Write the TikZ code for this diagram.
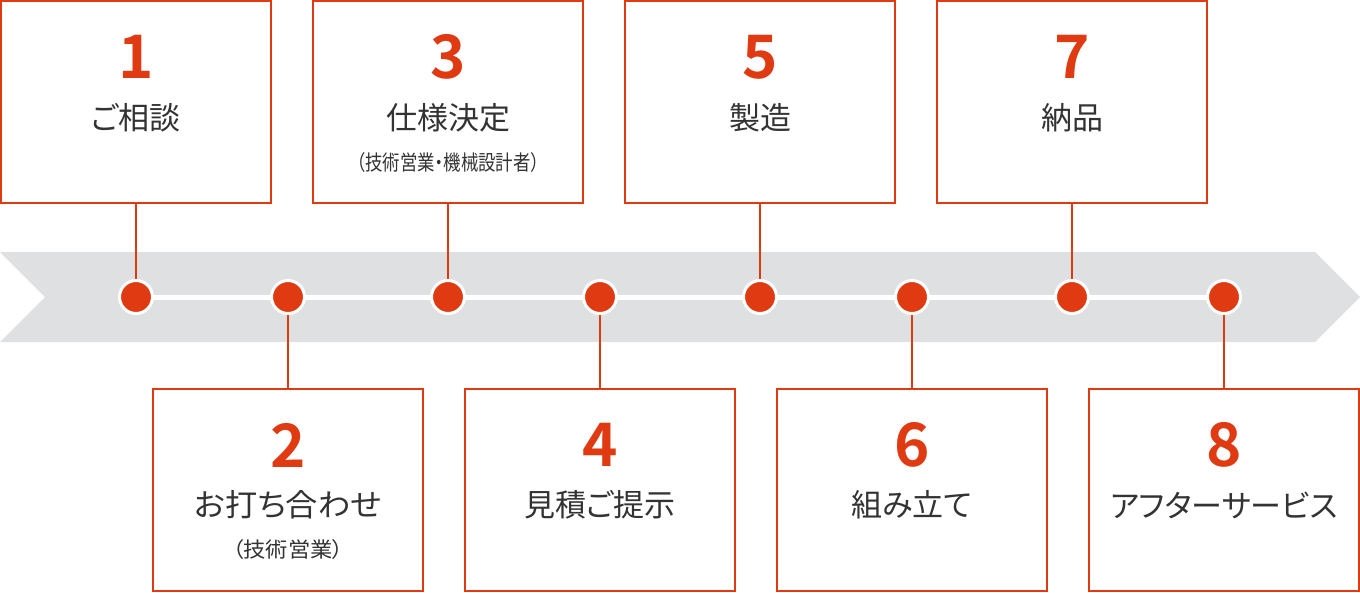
\documentclass[tikz,border=0pt]{standalone}
\usepackage{fontspec}
\usepackage{graphicx}
\setmainfont{Noto Sans CJK JP}
\newfontfamily\jpfont[RawFeature=+palt]{Noto Sans CJK JP}
\newfontfamily\numfont{Noto Sans CJK JP Bold}
\definecolor{accent}{HTML}{E03A12}
\definecolor{band}{HTML}{DFE0E2}
\definecolor{ink}{HTML}{333333}
\tikzset{
  stepbox/.style={draw=accent, line width=2pt, fill=white, minimum width=270pt, minimum height=202pt, inner sep=0pt},
  stepnum/.style={text=accent, font=\numfont\fontsize{60}{60}\selectfont, inner sep=0pt},
  steplabel/.style={text=ink, font=\jpfont\fontsize{31}{31}\selectfont, inner sep=0pt},
  stepsub/.style={text=ink, font=\jpfont\fontsize{21}{21}\selectfont, inner sep=0pt},
  dot/.style={circle, fill=accent, draw=white, line width=3pt, minimum size=33pt, inner sep=0pt},
  link/.style={draw=accent, line width=2pt},
}
\begin{document}
\begin{tikzpicture}[x=1pt,y=-1pt]
\useasboundingbox (0,0) rectangle (1360,592);
% band
\fill[band] (0,252) -- (1315,252) -- (1360,297) -- (1315,342) -- (0,342) -- (45,297) -- cycle;
% boxes
\node[stepbox] (b1) at (136,102) {};
\node[stepbox] (b3) at (448,102) {};
\node[stepbox] (b5) at (760,102) {};
\node[stepbox] (b7) at (1072,102) {};
\node[stepbox] (b2) at (288,490) {};
\node[stepbox] (b4) at (600,490) {};
\node[stepbox] (b6) at (912,490) {};
\node[stepbox] (b8) at (1224,490) {};
% dot anchors
\coordinate (c1) at (137,297);
\coordinate (c2) at (289,297);
\coordinate (c3) at (449,297);
\coordinate (c4) at (600,297);
\coordinate (c5) at (761,297);
\coordinate (c6) at (912,297);
\coordinate (c7) at (1072,297);
\coordinate (c8) at (1224,297);
% white line
\draw[white, line width=5pt] (c1) -- (c8);
% connectors
\draw[link] (b1.south) -- (b1.south |- c1);
\draw[link] (b3.south) -- (b3.south |- c3);
\draw[link] (b5.south) -- (b5.south |- c5);
\draw[link] (b7.south) -- (b7.south |- c7);
\draw[link] (b2.north) -- (b2.north |- c2);
\draw[link] (b4.north) -- (b4.north |- c4);
\draw[link] (b6.north) -- (b6.north |- c6);
\draw[link] (b8.north) -- (b8.north |- c8);
% dots
\node[dot] (d1) at (b1.south |- c1) {};
\node[dot] (d2) at (b2.north |- c2) {};
\node[dot] (d3) at (b3.south |- c3) {};
\node[dot] (d4) at (b4.north |- c4) {};
\node[dot] (d5) at (b5.south |- c5) {};
\node[dot] (d6) at (b6.north |- c6) {};
\node[dot] (d7) at (b7.south |- c7) {};
\node[dot] (d8) at (b8.north |- c8) {};
% texts top
\node[stepnum] (n1) at (136,57) {1};
\node[steplabel] (l1) at (136,118) {ご相談};
\node[stepnum] (n3) at (448,57) {3};
\node[steplabel] (l3) at (448,118) {仕様決定};
\node[stepsub] (s3) at (448,163) {\scalebox{0.83}[1]{（技術営業・機械設計者）}};
\node[stepnum] (n5) at (760,57) {5};
\node[steplabel] (l5) at (760,118) {製造};
\node[stepnum] (n7) at (1072,57) {7};
\node[steplabel] (l7) at (1072,118) {納品};
% texts bottom
\node[stepnum] (n2) at (288,445) {2};
\node[steplabel] (l2) at (288,505) {\scalebox{1.04}[1]{お打ち合わせ}};
\node[stepsub] (s2) at (288,550) {\scalebox{1.06}[1]{（技術営業）}};
\node[stepnum] (n4) at (600,445) {4};
\node[steplabel] (l4) at (600,505) {見積ご提示};
\node[stepnum] (n6) at (912,445) {6};
\node[steplabel] (l6) at (912,505) {組み立て};
\node[stepnum] (n8) at (1224,445) {8};
\node[steplabel] (l8) at (1224,505) {アフターサービス};
\end{tikzpicture}
\end{document}
